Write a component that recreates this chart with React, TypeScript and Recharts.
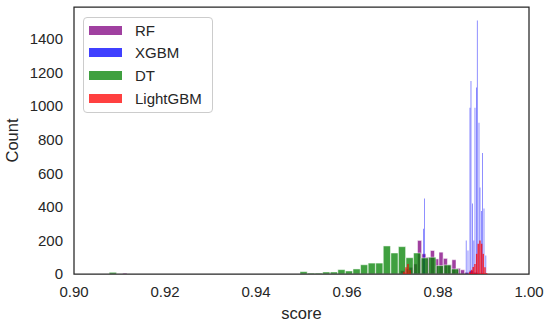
import { ComposedChart, Bar, XAxis, YAxis, Legend, ReferenceArea } from "recharts";

// bin centres (score) and counts
const rfScore = [
  0.91121, 0.97219, 0.97314, 0.97408, 0.97503, 0.97597, 0.97691, 0.97786, 0.9788,
  0.97975, 0.98069, 0.98164, 0.98258, 0.98353, 0.98447, 0.98542, 0.98636, 0.98731, 0.98825,
];
const rfCount = [5, 20, 30, 40, 60, 200, 120, 100, 140, 90, 130, 93, 55, 85, 34, 25, 10, 20, 10];

const xgbScore = [
  0.97681, 0.97705, 0.9862, 0.98659, 0.98703, 0.98725, 0.98758, 0.98787, 0.98813,
  0.98846, 0.98864, 0.98901, 0.98923, 0.98956, 0.9898, 0.99011, 0.99051,
];
const xgbCount = [270, 450, 200, 140, 990, 1150, 420, 200, 990, 1110, 1510, 900, 515, 375, 720, 390, 110];

const dtScore = [
  0.90857, 0.9505, 0.95216, 0.95383, 0.95549, 0.95716, 0.95882, 0.96048, 0.96215, 0.96381,
  0.96548, 0.96714, 0.9688, 0.97047, 0.97213, 0.9738, 0.97546, 0.97712, 0.97879, 0.98045,
  0.98212, 0.98378,
];
const dtCount = [10, 14, 5, 5, 12, 12, 26, 18, 30, 55, 65, 65, 167, 125, 163, 97, 125, 96, 100, 50, 54, 30];

const lgbScore = [
  0.97253, 0.97297, 0.97341, 0.97385, 0.98703, 0.98741, 0.98776, 0.98813, 0.98851,
  0.98886, 0.98923, 0.9896, 0.98996, 0.99033, 0.9907,
];
const lgbCount = [14, 40, 60, 24, 12, 25, 42, 60, 120, 180, 200, 180, 120, 40, 5];

const xTicks = [0.9, 0.92, 0.94, 0.96, 0.98, 1.0];
const yTicks = [0, 200, 400, 600, 800, 1000, 1200, 1400];

const series = [
  { name: "RF", color: "#800080", score: rfScore, count: rfCount, barSize: 4.1, edge: true, alpha: 0.75 },
  { name: "XGBM", color: "#0000ff", score: xgbScore, count: xgbCount, barSize: 0.8, edge: false, alpha: 0.55 },
  { name: "DT", color: "#008000", score: dtScore, count: dtCount, barSize: 7.2, edge: true, alpha: 0.75 },
  { name: "LightGBM", color: "#ff0000", score: lgbScore, count: lgbCount, barSize: 1.5, edge: false, alpha: 0.75 },
];

const W = 550;
const H = 328;
const margin = { top: 7, right: 21, bottom: 0, left: 0 };
const font = '"Liberation Sans", Arial, sans-serif';
const ink = "#262626";
const yMax = 1590;

function LegendBox() {
  return (
    <div
      style={{
        position: "relative",
        width: 130,
        height: 96,
        boxSizing: "border-box",
        border: "1px solid #cccccc",
        borderRadius: 4,
        background: "rgba(255,255,255,0.8)",
        fontFamily: font,
        fontSize: 15,
        color: ink,
      }}
    >
      {series.map((s, i) => (
        <div
          key={s.name}
          style={{ position: "absolute", left: 5, top: 1 + i * 22.7, height: 22, display: "flex", alignItems: "center" }}
        >
          <span style={{ display: "inline-block", width: 33, height: 9, background: s.color, opacity: 0.75, marginRight: 13 }} />
          <span>{s.name}</span>
        </div>
      ))}
    </div>
  );
}

function Layer({ s, top }: { s: (typeof series)[number]; top: boolean }) {
  const rows = s.score.map((x, i) => ({ score: x, count: s.count[i] }));
  return (
    <div style={{ position: "absolute", left: 0, top: 0 }}>
      <ComposedChart width={W} height={H} data={rows} margin={margin}>
        <XAxis
          dataKey="score"
          type="number"
          domain={[0.9, 1.0]}
          ticks={xTicks}
          allowDataOverflow
          height={54}
          tick={top ? { fontSize: 15, fill: ink, fontFamily: font } : false}
          tickFormatter={(v: number) => v.toFixed(2)}
          tickLine={false}
          axisLine={false}
          tickSize={0}
          tickMargin={12}
          label={
            top
              ? { value: "score", position: "insideBottom", offset: 9, fill: ink, fontSize: 16.5, fontFamily: font }
              : undefined
          }
        />
        <YAxis
          type="number"
          domain={[0, yMax]}
          ticks={yTicks}
          width={74}
          tick={top ? { fontSize: 15, fill: ink, fontFamily: font } : false}
          tickLine={false}
          axisLine={false}
          tickSize={0}
          tickMargin={11}
          label={
            top
              ? {
                  value: "Count",
                  angle: -90,
                  position: "insideLeft",
                  offset: 12,
                  fill: ink,
                  fontSize: 16.5,
                  fontFamily: font,
                  style: { textAnchor: "middle" },
                }
              : undefined
          }
        />
        <Bar
          dataKey="count"
          name={s.name}
          fill={s.color}
          fillOpacity={s.alpha}
          stroke={s.edge ? "#ffffff" : "none"}
          strokeWidth={0.5}
          barSize={s.barSize}
          isAnimationActive={false}
        />
        {top && (
          <ReferenceArea
            x1={0.9}
            x2={1.0}
            y1={0}
            y2={yMax}
            fill="none"
            stroke={ink}
            strokeWidth={1.25}
            ifOverflow="visible"
          />
        )}
        {top && (
          <Legend
            layout="horizontal"
            verticalAlign="middle"
            align="center"
            wrapperStyle={{ left: 83, top: 17, width: 130, height: 96 }}
            content={() => <LegendBox />}
          />
        )}
      </ComposedChart>
    </div>
  );
}

export default function App() {
  return (
    <div style={{ position: "absolute", left: 0, top: 0, width: W, height: H, background: "#fff" }}>
      {series.map((s, i) => (
        <Layer key={s.name} s={s} top={i === series.length - 1} />
      ))}
    </div>
  );
}
